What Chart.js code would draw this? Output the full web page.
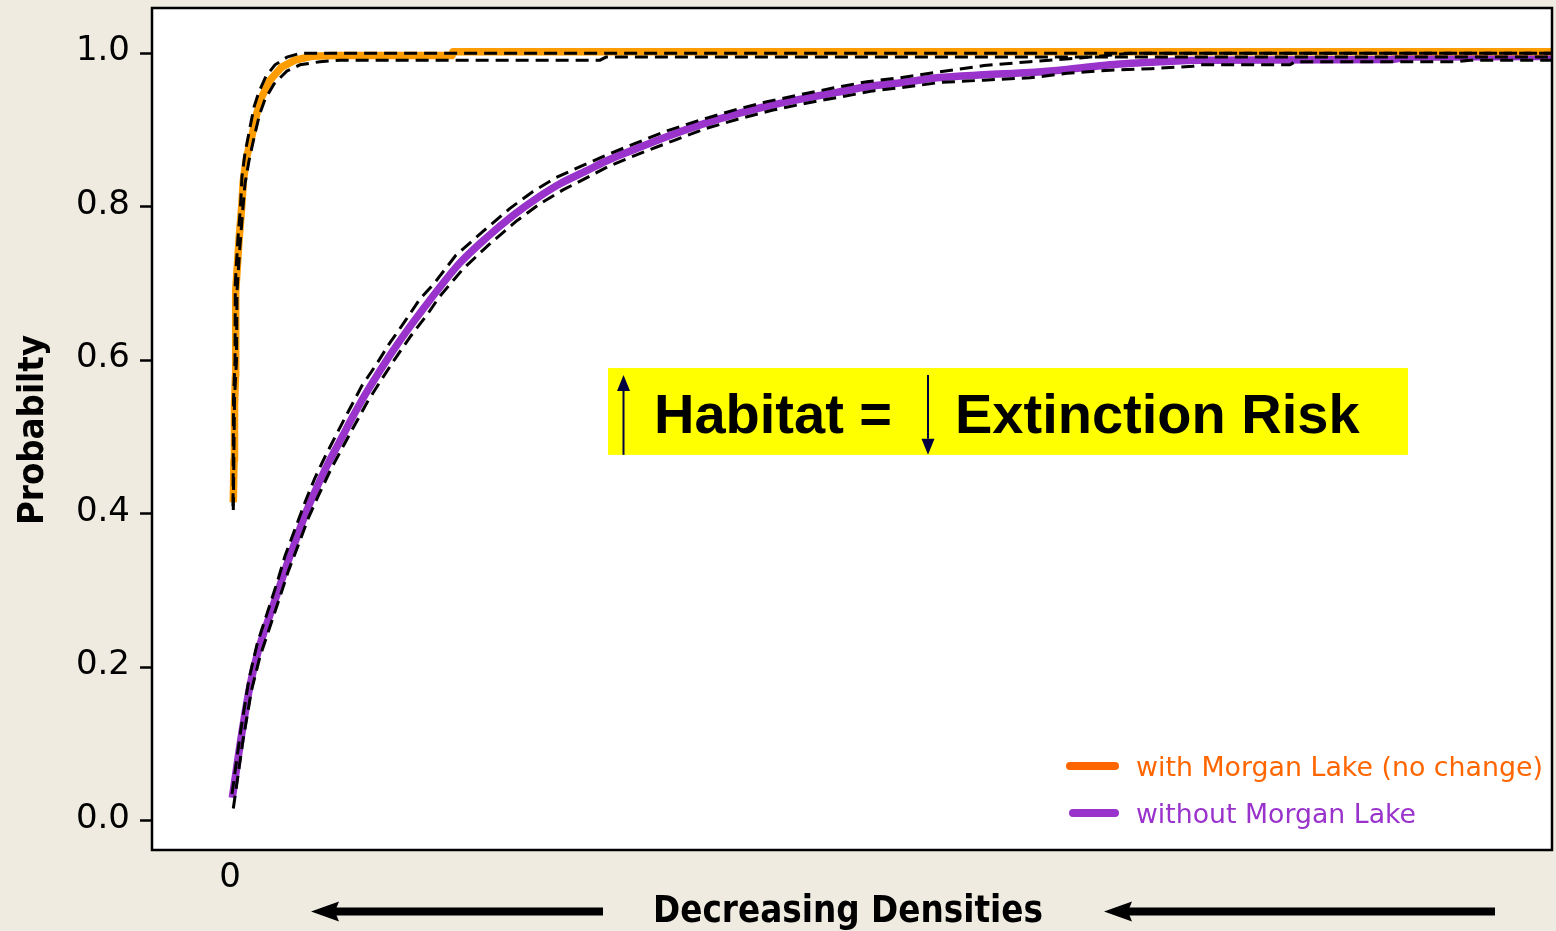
<!DOCTYPE html>
<html>
<head>
<meta charset="utf-8">
<title>Probability vs decreasing densities</title>
<script src="https://cdn.jsdelivr.net/npm/chart.js@4.4.1/dist/chart.umd.min.js"></script>
<style>
  html, body { margin: 0; padding: 0; background: #EFEBE1; }
  canvas { display: block; }
</style>
</head>
<body>
<canvas id="chart" width="1556" height="931"></canvas>
<script>
// ---- data: cumulative probability curves with their dashed confidence bounds ----
const withLakeX = [0.33, 0.40, 0.45, 0.55, 0.57, 0.90, 1.17, 1.33, 1.67, 2.17, 2.67, 3.17, 4.00, 5.17, 6.50, 8.17, 10.5, 22.2, 22.3, 133];
const withLakeP = [0.415, 0.47, 0.54, 0.58, 0.69, 0.756, 0.800, 0.834, 0.865, 0.891, 0.921, 0.943, 0.965, 0.982, 0.991, 0.996, 0.997, 0.997, 1.002, 1.002];

const withLakeUpperX = [0.30, 0.35, 0.50, 0.53, 0.80, 1.05, 1.20, 1.50, 1.95, 2.40, 2.90, 3.60, 4.50, 5.70, 7.00, 133];
const withLakeUpperP = [0.41, 0.55, 0.60, 0.70, 0.76, 0.80, 0.84, 0.87, 0.90, 0.93, 0.95, 0.97, 0.985, 0.995, 1.0, 1.0];

const withLakeLowerX = [0.33, 0.45, 0.65, 0.70, 1.00, 1.30, 1.50, 1.90, 2.40, 2.95, 3.50, 4.40, 5.70, 7.00, 9.00, 11.0, 37.0, 37.6, 133];
const withLakeLowerP = [0.405, 0.55, 0.60, 0.69, 0.75, 0.80, 0.83, 0.86, 0.89, 0.92, 0.94, 0.96, 0.977, 0.985, 0.989, 0.991, 0.991, 0.995, 0.995];

const noLakeX = [0.23, 1.17, 2.0, 2.83, 3.83, 4.83, 5.67, 6.67, 7.67, 8.67, 9.83, 11.17, 12.17, 13.5, 14.83, 16.17, 17.83, 19.5, 20.67, 23.0, 25.67, 28.33, 30.67, 33.0, 35.67, 37.67, 40.67, 44.0, 47.33, 50.67, 54.0, 57.33, 60.67, 64.0, 67.33, 70.67, 75.4, 80.0, 83.7, 88.0, 93.0, 97.0, 116.0, 118.0, 133];
const noLakeP = [0.030, 0.113, 0.176, 0.222, 0.262, 0.300, 0.333, 0.369, 0.404, 0.434, 0.466, 0.499, 0.524, 0.555, 0.583, 0.610, 0.641, 0.670, 0.690, 0.727, 0.760, 0.789, 0.811, 0.830, 0.847, 0.860, 0.876, 0.893, 0.908, 0.921, 0.932, 0.941, 0.949, 0.957, 0.962, 0.968, 0.972, 0.975, 0.979, 0.985, 0.989, 0.991, 0.992, 0.995, 0.996];

const noLakeUpperX = [0.2, 1.1, 1.9, 2.7, 3.7, 4.7, 5.5, 6.5, 7.5, 8.5, 9.6, 10.9, 11.9, 13.2, 14.6, 15.9, 17.5, 19.0, 20.4, 22.6, 25.3, 28.0, 30.3, 32.6, 35.3, 37.4, 40.4, 43.7, 47.0, 50.4, 53.7, 57.0, 60.4, 63.7, 67.0, 70.5, 75.4, 80.0, 85.0, 90.0, 133];
const noLakeUpperP = [0.035, 0.12, 0.185, 0.23, 0.27, 0.31, 0.345, 0.38, 0.415, 0.447, 0.477, 0.51, 0.535, 0.567, 0.594, 0.621, 0.651, 0.68, 0.70, 0.737, 0.768, 0.798, 0.82, 0.838, 0.854, 0.866, 0.882, 0.899, 0.913, 0.926, 0.937, 0.946, 0.955, 0.963, 0.968, 0.975, 0.984, 0.989, 0.994, 1.0, 1.0];

const noLakeLowerX = [0.33, 1.3, 2.15, 3.0, 4.0, 5.0, 5.85, 6.85, 7.85, 8.85, 10.05, 11.4, 12.4, 13.75, 15.1, 16.4, 18.1, 19.8, 20.9, 23.3, 26.0, 28.6, 31.0, 33.3, 36.0, 37.9, 40.9, 44.3, 47.6, 51.0, 54.3, 57.6, 61.0, 64.3, 67.6, 71.0, 75.4, 80.0, 83.7, 88.0, 92.1, 96.3, 97.0, 106.0, 106.5, 122.7, 124.0, 133];
const noLakeLowerP = [0.016, 0.105, 0.17, 0.214, 0.253, 0.292, 0.326, 0.36, 0.395, 0.424, 0.457, 0.49, 0.514, 0.546, 0.574, 0.600, 0.632, 0.661, 0.682, 0.719, 0.752, 0.781, 0.804, 0.822, 0.84, 0.853, 0.869, 0.886, 0.902, 0.915, 0.926, 0.935, 0.943, 0.951, 0.956, 0.962, 0.965, 0.968, 0.974, 0.978, 0.980, 0.983, 0.985, 0.985, 0.989, 0.989, 0.991, 0.991];

const yTicks = [0, 0.2, 0.4, 0.6, 0.8, 1.0];
const xTicks = [0];
const xTickLabels = ['0'];

const seriesLabels = ['with Morgan Lake (no change)', 'without Morgan Lake'];
const yTitle = 'Probabilty';
const xTitle = 'Decreasing Densities';
const calloutLeft = 'Habitat =';
const calloutRight = 'Extinction Risk';

// ---- styling ----
const PAGE_BG = '#EFEBE1';
const ORANGE_LINE = '#FF9D00';
const ORANGE_KEY = '#FF6600';
const PURPLE = '#9933CC';
const NAVY = '#000040';
const TICK_FONT = { family: '"DejaVu Sans", Verdana, sans-serif', size: 34 };

const pts = (xs, ys) => xs.map((x, i) => ({ x, y: ys[i] }));

const solid = (label, xs, ys, color, order, smooth) => ({
  label, data: pts(xs, ys), borderColor: color, borderWidth: 7.5,
  pointRadius: 0, fill: false, order,
  cubicInterpolationMode: smooth ? 'monotone' : 'default', tension: 0,
  borderJoinStyle: 'round', borderCapStyle: 'butt'
});
const dashed = (label, xs, ys) => ({
  label, data: pts(xs, ys), borderColor: '#000', borderWidth: 3,
  borderDash: [13, 7], pointRadius: 0, fill: false, tension: 0, order: 1,
  borderJoinStyle: 'miter', borderCapStyle: 'butt'
});

// page background, white plotting area, frame, key, callout, titles and arrows
const decorations = {
  id: 'decorations',
  beforeDraw(chart) {
    const { ctx, chartArea: a, width, height } = chart;
    ctx.save();
    ctx.fillStyle = PAGE_BG;
    ctx.fillRect(0, 0, width, height);
    ctx.fillStyle = '#FFFFFF';
    ctx.fillRect(a.left, a.top, a.right - a.left, a.bottom - a.top);
    ctx.restore();
  },
  afterDatasetsDraw(chart) {
    const { ctx, scales: { x, y } } = chart;
    ctx.save();
    // yellow callout box
    const bx0 = x.getPixelForValue(37.8), bx1 = x.getPixelForValue(117.8);
    const by0 = y.getPixelForValue(0.590), by1 = y.getPixelForValue(0.4768);
    ctx.fillStyle = '#FFFF00';
    ctx.fillRect(bx0, by0, bx1 - bx0, by1 - by0);
    ctx.fillStyle = '#000';
    ctx.font = 'bold 56px "Liberation Sans", Arial, sans-serif';
    ctx.textAlign = 'left';
    ctx.textBaseline = 'alphabetic';
    ctx.fillText(calloutLeft, bx0 + 46, by0 + 65);
    ctx.fillText(calloutRight, bx0 + 347, by0 + 65);
    // up / down arrows
    const arrow = (ax, yFrom, yTo) => {
      const dir = yTo < yFrom ? -1 : 1;
      const headLen = 16, headW = 6.5;
      ctx.strokeStyle = NAVY; ctx.fillStyle = NAVY; ctx.lineWidth = 2;
      ctx.beginPath(); ctx.moveTo(ax, yFrom); ctx.lineTo(ax, yTo - dir * headLen); ctx.stroke();
      ctx.beginPath(); ctx.moveTo(ax, yTo); ctx.lineTo(ax - headW, yTo - dir * headLen);
      ctx.lineTo(ax + headW, yTo - dir * headLen); ctx.closePath(); ctx.fill();
    };
    arrow(bx0 + 15.5, by1, by0 + 7);
    arrow(bx0 + 320, by0 + 7, by1);
    ctx.restore();
  },
  afterDraw(chart) {
    const { ctx, chartArea: a } = chart;
    ctx.save();
    // frame round the plotting area
    ctx.strokeStyle = '#000';
    ctx.lineWidth = 2.5;
    ctx.strokeRect(a.left, a.top, a.right - a.left, a.bottom - a.top);

    // key
    const keyColors = [ORANGE_KEY, PURPLE];
    const keyRows = [{ x0: 1067, y: 766, base: 776 }, { x0: 1070, y: 813, base: 823 }];
    ctx.font = '27px "DejaVu Sans", Verdana, sans-serif';
    ctx.textAlign = 'left';
    ctx.textBaseline = 'alphabetic';
    seriesLabels.forEach((lab, i) => {
      const r = keyRows[i];
      ctx.strokeStyle = keyColors[i];
      ctx.lineWidth = 8;
      ctx.lineCap = 'round';
      ctx.beginPath(); ctx.moveTo(r.x0 + 3, r.y); ctx.lineTo(1115, r.y); ctx.stroke();
      ctx.fillStyle = keyColors[i];
      const w = i === 0 ? 407 : 280;
      ctx.fillText(lab, 1136, r.base, w);
    });

    // axis titles
    ctx.fillStyle = '#000';
    ctx.font = 'bold 36px "DejaVu Sans", Verdana, sans-serif';
    ctx.textAlign = 'center';
    ctx.save();
    ctx.translate(43, (a.top + a.bottom) / 2 + 1);
    ctx.rotate(-Math.PI / 2);
    ctx.fillText(yTitle, 0, 0, 190);
    ctx.restore();
    ctx.font = 'bold 37px "DejaVu Sans", Verdana, sans-serif';
    ctx.fillText(xTitle, 848, 922, 390);

    // direction arrows beside the x title
    const leftArrow = (tip, tail, yy) => {
      ctx.strokeStyle = '#000'; ctx.fillStyle = '#000';
      ctx.lineWidth = 8; ctx.lineCap = 'butt';
      ctx.beginPath(); ctx.moveTo(tail, yy); ctx.lineTo(tip + 20, yy); ctx.stroke();
      ctx.beginPath(); ctx.moveTo(tip, yy); ctx.lineTo(tip + 28, yy - 10);
      ctx.lineTo(tip + 24, yy); ctx.lineTo(tip + 28, yy + 10); ctx.closePath(); ctx.fill();
    };
    leftArrow(311, 603, 911.5);
    leftArrow(1104, 1495, 911.5);
    ctx.restore();
  }
};

new Chart(document.getElementById('chart'), {
  type: 'line',
  data: {
    datasets: [
      solid(seriesLabels[1], noLakeX, noLakeP, PURPLE, 3, true),
      solid(seriesLabels[0], withLakeX, withLakeP, ORANGE_LINE, 2, false),
      dashed('with Morgan Lake upper bound', withLakeUpperX, withLakeUpperP),
      dashed('with Morgan Lake lower bound', withLakeLowerX, withLakeLowerP),
      dashed('without Morgan Lake upper bound', noLakeUpperX, noLakeUpperP),
      dashed('without Morgan Lake lower bound', noLakeLowerX, noLakeLowerP)
    ]
  },
  options: {
    responsive: false,
    animation: false,
    events: [],
    layout: { padding: { top: 8, right: 4, left: 0, bottom: 0 } },
    plugins: { legend: { display: false }, tooltip: { enabled: false } },
    scales: {
      x: {
        type: 'linear', min: -7.8, max: 132.2,
        afterBuildTicks: s => { s.ticks = xTicks.map(v => ({ value: v })); },
        afterFit: s => { s.height = 81; s.paddingLeft = 0; s.paddingRight = 0; },
        ticks: {
          callback: (v, i) => xTickLabels[i],
          font: TICK_FONT, color: '#000', padding: 0, maxRotation: 0, autoSkip: false
        },
        grid: { display: false },
        border: { display: false }
      },
      y: {
        type: 'linear', min: -0.038, max: 1.059,
        afterBuildTicks: s => { s.ticks = yTicks.map(v => ({ value: v })); },
        afterFit: s => { s.width = 152; s.paddingTop = 0; s.paddingBottom = 0; },
        ticks: {
          callback: v => v.toFixed(1),
          font: TICK_FONT, color: '#000', padding: 10, labelOffset: -2
        },
        grid: { drawOnChartArea: false, drawTicks: true, tickLength: 12, tickWidth: 2.5, tickColor: '#000' },
        border: { display: false }
      }
    }
  },
  plugins: [decorations]
});
</script>
</body>
</html>
